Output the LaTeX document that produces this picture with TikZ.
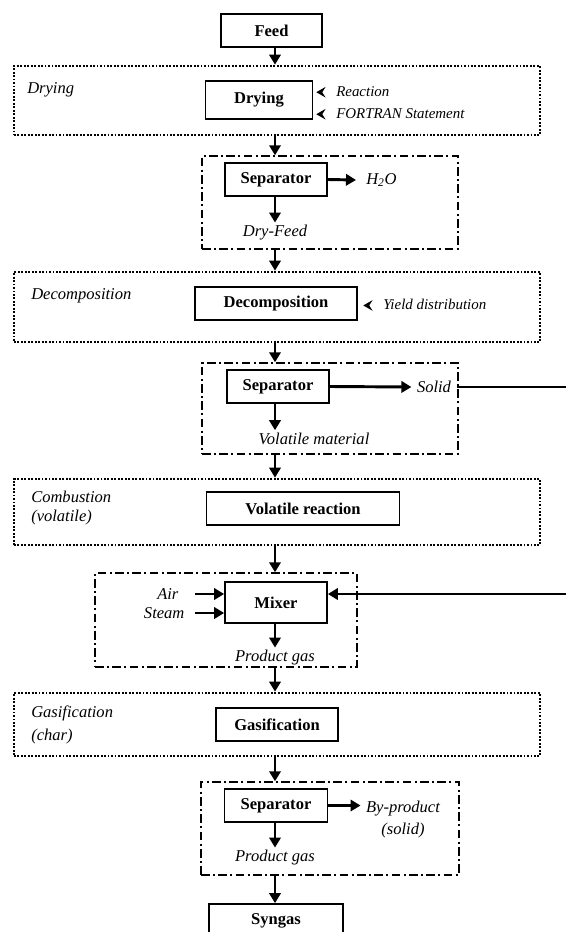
\documentclass[tikz,border=0pt]{standalone}
\usepackage{fontspec}
\setmainfont{Liberation Serif}
\usetikzlibrary{arrows.meta,calc,positioning}

\newcommand{\tipmark}{\tikz[baseline=-0.6ex]\fill (0pt,0pt) -- (7pt,4pt) -- (4.5pt,0pt) -- (7pt,-4pt) -- cycle;}

\begin{document}
\begin{tikzpicture}[x=0.75pt,y=-0.75pt]
    \tikzset{unit/.style = {draw, line width=1.3pt, inner sep=0pt,
        font=\fontsize{12.4}{14}\selectfont\bfseries},
      phase/.style = {draw, line width=2pt, dash pattern=on 1.4pt off 1.2pt, inner sep=0pt},
      block/.style = {draw, line width=1.1pt, dash pattern=on 6.5pt off 2.5pt on 1.5pt off 2.5pt, inner sep=0pt},
      stream/.style = {inner xsep=4pt, inner ysep=2pt, font=\fontsize{12.4}{14.3}\selectfont\itshape},
      note/.style = {inner sep=0pt, font=\fontsize{11.2}{13}\selectfont\itshape},
      flow/.style = {line width=2.2pt, -{Triangle[length=7.5pt,width=8.5pt]}}}
    \useasboundingbox (0,0) rectangle (566,932);
    \coordinate (spine) at (275,0);

    \node[unit, minimum width=75.75pt, minimum height=24.75pt] (feed) at (271.5,30.5) {Feed};

    % drying
    \node[phase, minimum width=394.5pt, minimum height=51.75pt] (dryphase) at (277,100.5) {};
    \node[stream, anchor=west, inner xsep=0pt] at (27,90) {Drying};
    \node[unit, minimum width=80.25pt, minimum height=28.5pt] (drying) at (259,100) {Drying};
    \node[note, anchor=west] (rxn) at (316,92) {\tipmark\hspace{8pt}Reaction};
    \node[note, anchor=west] (fortran) at (316,114) {\tipmark\hspace{8pt}FORTRAN Statement};

    \node[block, minimum width=192pt, minimum height=69.75pt] (sepblockA) at (330,202.5) {};
    \node[unit, minimum width=76.5pt, minimum height=24.75pt] (sepA) at (276,179.5) {Separator};
    \node[stream, anchor=west, inner xsep=7.5pt] (water) at (356,180) {H\textsubscript{2}O};
    \node[stream] (dryfeed) at (275,233) {Dry-Feed};

    % decomposition
    \node[phase, minimum width=394.5pt, minimum height=52.5pt] (decphase) at (277,307) {};
    \node[stream, anchor=west, inner xsep=0pt] at (31,296) {Decomposition};
    \node[unit, minimum width=121.5pt, minimum height=24.75pt] (decomp) at (276,303.5) {Decomposition};
    \node[note, anchor=west] (yield) at (363,305) {\tipmark\hspace{8pt}Yield distribution};

    \node[block, minimum width=192pt, minimum height=68.25pt] (sepblockB) at (330,408.5) {};
    \node[unit, minimum width=76.9pt, minimum height=24.75pt] (sepB) at (278,386.5) {Separator};
    \node[stream] (solid) at (434,387) {Solid};
    \node[stream] (volmat) at (314,439) {Volatile material};
    \coordinate (charout) at (566,387);

    % combustion
    \node[phase, minimum width=394.5pt, minimum height=49.5pt] (combphase) at (277,512) {};
    \node[stream, anchor=west, inner xsep=0pt, align=left] at (31,508) {Combustion\\(volatile)};
    \node[unit, minimum width=144.75pt, minimum height=24.75pt] (volreact) at (303,508.5) {Volatile reaction};

    \node[block, minimum width=196.5pt, minimum height=70.5pt] (mixblock) at (226,620) {};
    \node[unit, minimum width=76.5pt, minimum height=30.75pt] (mixer) at (276,602.5) {Mixer};
    \node[stream, anchor=east] (air) at (184,594) {Air};
    \node[stream, anchor=east] (steam) at (190,613) {Steam};
    \node[stream] (gasA) at (275,658) {Product gas};
    \coordinate (charin) at (566,594);

    % gasification
    \node[phase, minimum width=394.5pt, minimum height=47.25pt] (gasphase) at (277,724.5) {};
    \node[stream, anchor=west, inner xsep=0pt, align=left] at (31,725) {Gasification\\[3.5pt](char)};
    \node[unit, minimum width=91.5pt, minimum height=24.75pt] (gasif) at (277,724.5) {Gasification};

    \node[block, minimum width=193.5pt, minimum height=69.75pt] (sepblockC) at (330,828.5) {};
    \node[unit, minimum width=77.25pt, minimum height=24.75pt] (sepC) at (276,805.5) {Separator};
    \node[stream, align=center, font=\fontsize{12.4}{17.2}\selectfont\itshape] (byprod) at (403,819.5) {By-product\\(solid)};
    \node[stream] (gasB) at (275,858) {Product gas};

    \node[unit, minimum width=100.5pt, minimum height=24.75pt] (syngas) at (276,920.5) {Syngas};

    % main line
    \draw[flow] (feed.south -| spine) -- (dryphase.north -| spine);
    \draw[flow] (dryphase.south -| spine) -- (sepblockA.north -| spine);
    \draw[flow] (sepA.south -| spine) -- (dryfeed.north -| spine);
    \draw[flow] (sepblockA.south -| spine) -- (decphase.north -| spine);
    \draw[flow] (decphase.south -| spine) -- (sepblockB.north -| spine);
    \draw[flow] (sepB.south -| spine) -- (volmat.north -| spine);
    \draw[flow] (sepblockB.south -| spine) -- (combphase.north -| spine);
    \draw[flow] (combphase.south -| spine) -- (mixblock.north -| spine);
    \draw[flow] (mixer.south -| spine) -- (gasA.north -| spine);
    \draw[flow] (mixblock.south -| spine) -- (gasphase.north -| spine);
    \draw[flow] (gasphase.south -| spine) -- (sepblockC.north -| spine);
    \draw[flow] (sepC.south -| spine) -- (gasB.north -| spine);
    \draw[flow] (sepblockC.south -| spine) -- (syngas.north -| spine);

    % side streams
    \draw[flow] (sepA.east) -- (water.west);
    \draw[flow] (sepB.east) -- (solid.west);
    \draw[line width=2.2pt] (solid.east) -- (charout);
    \draw[flow] (air.east) ++(11,0) -- (air.east -| mixer.west);
    \draw[flow] (steam.east) ++(5,0) -- (steam.east -| mixer.west);
    \draw[flow] (charin) -- (charin -| mixer.east);
    \draw[flow] (sepC.east) -- (sepC.east -| byprod.west);
\end{tikzpicture}
\end{document}
